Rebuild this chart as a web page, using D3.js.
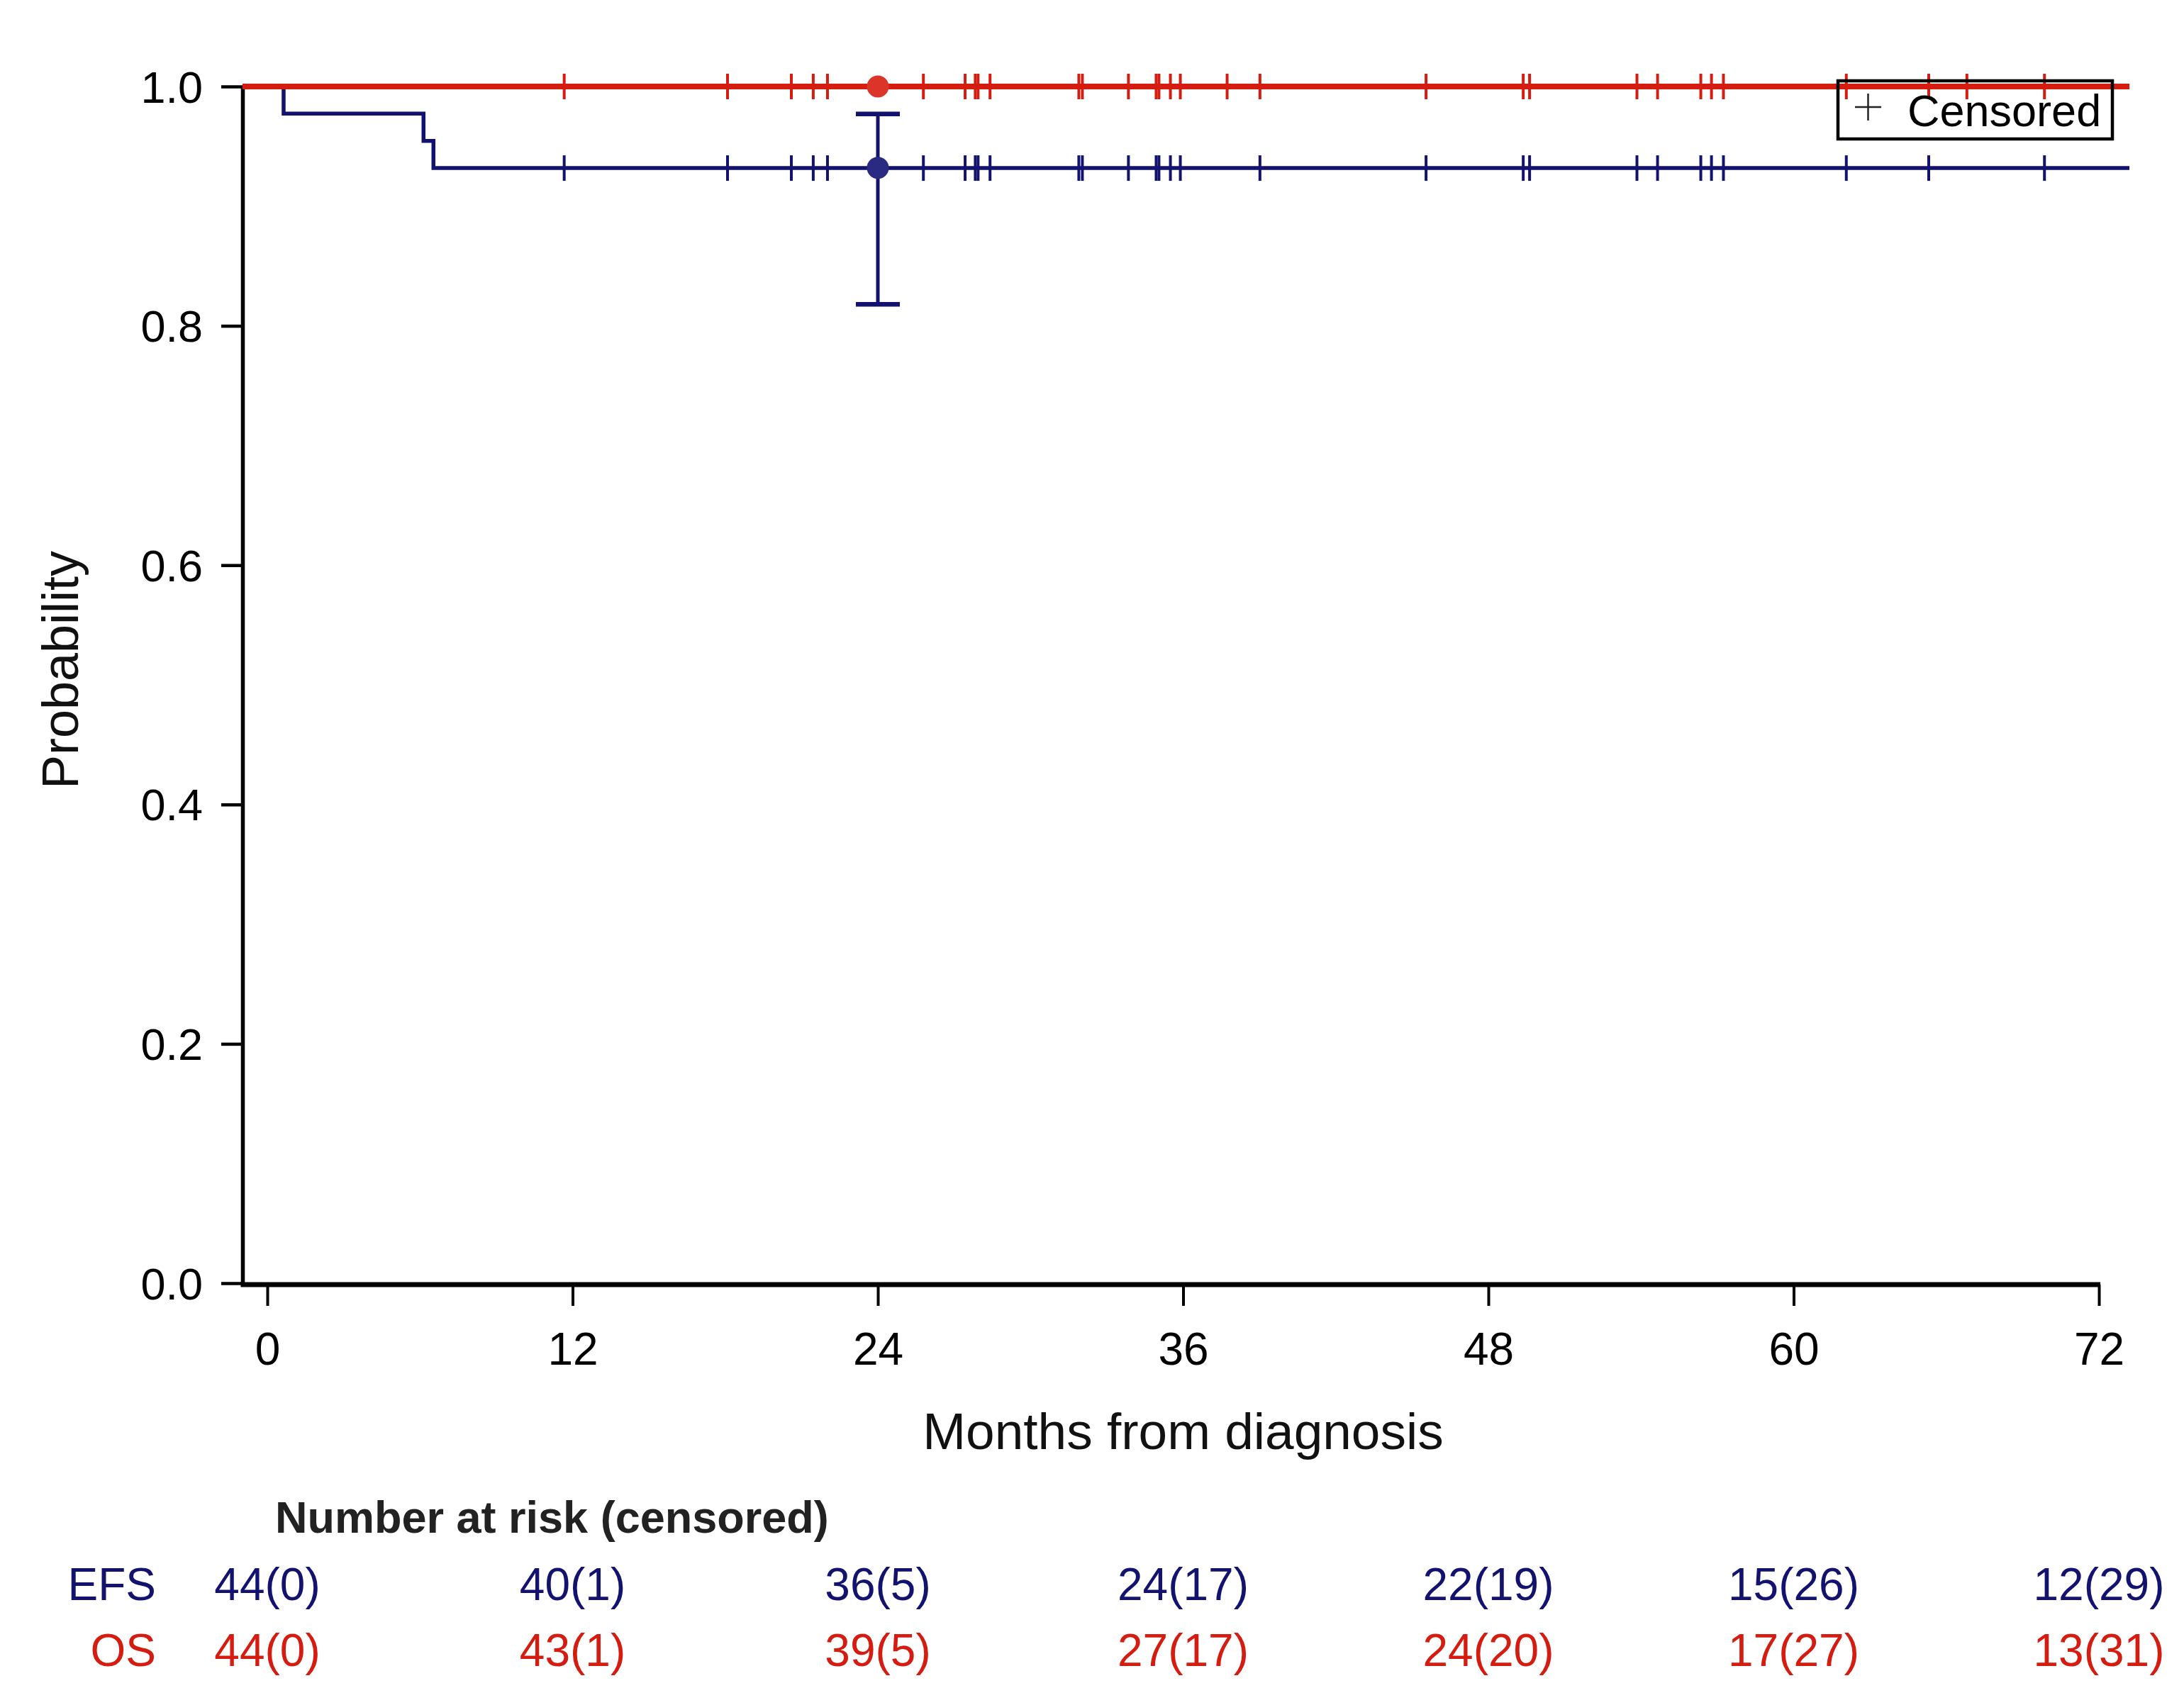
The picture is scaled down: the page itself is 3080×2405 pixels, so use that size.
<!DOCTYPE html>
<html><head><meta charset="utf-8">
<script src="https://cdn.jsdelivr.net/npm/d3@7"></script>
<style>
body{margin:0;background:#fff}
text{font-family:"Liberation Sans",Arial,Helvetica,sans-serif}
</style>
</head><body>
<svg id="chart" width="3080" height="2405"></svg>
<script>
// ---------------- data ----------------
const timeTicks = [0, 12, 24, 36, 48, 60, 72];
const probTicks = [0, 0.2, 0.4, 0.6, 0.8, 1.0];
const seriesNames = ["EFS", "OS"];

// Kaplan-Meier step points (time in months, survival probability)
const efsTimes = [0, 0.64, 6.14, 6.53];
const efsSurv  = [1, 43/44, 42/44, 41/44];
const osTimes  = [0];
const osSurv   = [1];
const followUpEnd = 73.2;

// censoring times (months)
const efsCensored = [11.67,18.09,20.60,21.46,22.02,25.79,27.43,27.83,27.94,28.41,31.90,32.04,33.85,34.94,35.05,35.50,35.89,39.02,45.55,49.37,49.62,53.84,54.65,56.35,56.77,57.24,62.07,65.31,69.86];
const osCensored  = [11.67,18.09,20.60,21.46,22.02,25.79,27.43,27.83,27.94,28.41,31.90,32.04,33.85,34.94,35.05,35.50,35.89,37.73,39.02,45.55,49.37,49.62,53.84,54.65,56.35,56.77,57.24,62.07,65.31,66.81,69.86];

// 24-month estimates
const markTime = 24;
const efsAtMark = 0.932, efsCILow = 0.818, efsCIHigh = 0.977;
const osAtMark = 1.0;

// number at risk (censored)
const efsRisk = ["44(0)","40(1)","36(5)","24(17)","22(19)","15(26)","12(29)"];
const osRisk  = ["44(0)","43(1)","39(5)","27(17)","24(20)","17(27)","13(31)"];

// ---------------- drawing ----------------
const BLUE = "#13136f", RED = "#d41c10";
const BLUE_DOT = "#2a2a82", RED_DOT = "#dc3428";
const svg = d3.select("#chart");
svg.append("rect").attr("width",3080).attr("height",2405).attr("fill","#fff");

const axisLeftX = 342, axisBottomY = 1812;
const x = d3.scaleLinear().domain([0, 72]).range([377, 2960]);
const y = d3.scaleLinear().domain([0, 1]).range([1810, 122]);
const tStart = x.invert(axisLeftX);

function survAt(times, surv, t){
  let s = surv[0];
  for (let i=0;i<times.length;i++){ if (times[i] <= t) s = surv[i]; }
  return s;
}
function stepPoints(times, surv){
  const pts = [[tStart, surv[0]]];
  times.forEach((t,i)=>{ if (t>0) pts.push([t, surv[i]]); });
  pts.push([followUpEnd, surv[surv.length-1]]);
  return pts;
}
const line = d3.line().x(d=>x(d[0])).y(d=>y(d[1])).curve(d3.curveStepAfter);

// Y axis
const yAxis = d3.axisLeft(y).tickValues(probTicks).tickFormat(d3.format(".1f"))
  .tickSize(30).tickSizeOuter(0).tickPadding(26);
const gy = svg.append("g").attr("transform",`translate(${axisLeftX},0)`).call(yAxis);
gy.select(".domain").attr("stroke","#000").attr("stroke-width",5.5);
gy.selectAll(".tick line").attr("stroke","#000").attr("stroke-width",4.5);
gy.selectAll(".tick text").attr("font-size",63).attr("fill","#000")
  .attr("font-family","'Liberation Sans',Arial,sans-serif").attr("dy","0.35em");

// X axis
const xAxis = d3.axisBottom(x).tickValues(timeTicks).tickSize(30).tickSizeOuter(0).tickPadding(38);
const gx = svg.append("g").attr("transform",`translate(0,${axisBottomY})`).call(xAxis);
gx.select(".domain").remove();
gx.append("line").attr("x1",axisLeftX-2.5).attr("x2",x(72)+2).attr("y1",0).attr("y2",0)
  .attr("stroke","#000").attr("stroke-width",7);
gx.selectAll(".tick line").attr("stroke","#000").attr("stroke-width",4);
gx.selectAll(".tick text").attr("font-size",64).attr("fill","#000")
  .attr("font-family","'Liberation Sans',Arial,sans-serif");

// axis titles
svg.append("text").attr("x", (x(0)+x(72))/2).attr("y",2044).attr("text-anchor","middle")
  .attr("font-size",73).attr("fill","#111").text("Months from diagnosis");
svg.append("text").attr("transform","translate(110,945) rotate(-90)").attr("text-anchor","middle")
  .attr("font-size",72).attr("fill","#111").text("Probability");

// curves
const curves = [
  {name:"EFS", times:efsTimes, surv:efsSurv, cens:efsCensored, color:BLUE, width:5.5},
  {name:"OS",  times:osTimes,  surv:osSurv,  cens:osCensored,  color:RED,  width:8}
];
curves.forEach(c=>{
  svg.append("path").datum(stepPoints(c.times,c.surv)).attr("d",line)
    .attr("fill","none").attr("stroke",c.color).attr("stroke-width",c.width);
  svg.append("g").selectAll("line").data(c.cens).join("line")
    .attr("x1",d=>x(d)).attr("x2",d=>x(d))
    .attr("y1",d=>y(survAt(c.times,c.surv,d))-18)
    .attr("y2",d=>y(survAt(c.times,c.surv,d))+18)
    .attr("stroke",c.color).attr("stroke-width",4);
});

// 24-month CI for EFS
const capW = 31;
svg.append("line").attr("x1",x(markTime)).attr("x2",x(markTime))
  .attr("y1",y(efsCIHigh)).attr("y2",y(efsCILow)).attr("stroke",BLUE).attr("stroke-width",5);
[efsCIHigh, efsCILow].forEach(v=>{
  svg.append("line").attr("x1",x(markTime)-capW).attr("x2",x(markTime)+capW)
    .attr("y1",y(v)).attr("y2",y(v)).attr("stroke",BLUE).attr("stroke-width",6.5);
});
svg.append("circle").attr("cx",x(markTime)).attr("cy",y(efsAtMark)).attr("r",15.5).attr("fill",BLUE_DOT);
svg.append("circle").attr("cx",x(markTime)).attr("cy",y(osAtMark)).attr("r",15.5).attr("fill",RED_DOT);

// legend
const lg = svg.append("g");
lg.append("rect").attr("x",2592).attr("y",114).attr("width",387).attr("height",82)
  .attr("fill","none").attr("stroke","#000").attr("stroke-width",4.5);
lg.append("line").attr("x1",2616).attr("x2",2653).attr("y1",151).attr("y2",151).attr("stroke","#222").attr("stroke-width",2.5);
lg.append("line").attr("x1",2634.5).attr("x2",2634.5).attr("y1",132).attr("y2",170).attr("stroke","#222").attr("stroke-width",2.5);
lg.append("text").attr("x",2690).attr("y",178).attr("font-size",63).attr("fill","#000").text("Censored");

// number at risk table
svg.append("text").attr("x",388).attr("y",2162).attr("font-size",63).attr("font-weight","bold")
  .attr("fill","#222").text("Number at risk (censored)");
const rows = [
  {name:seriesNames[0], vals:efsRisk, color:BLUE, yb:2257},
  {name:seriesNames[1], vals:osRisk,  color:RED,  yb:2350}
];
rows.forEach(r=>{
  svg.append("text").attr("x",220).attr("y",r.yb).attr("text-anchor","end")
    .attr("font-size",64).attr("fill",r.color).text(r.name);
  svg.append("g").selectAll("text").data(r.vals).join("text")
    .attr("x",(d,i)=>x(timeTicks[i])).attr("y",r.yb).attr("text-anchor","middle")
    .attr("font-size",64).attr("fill",r.color).text(d=>d);
});
</script>
</body></html>
